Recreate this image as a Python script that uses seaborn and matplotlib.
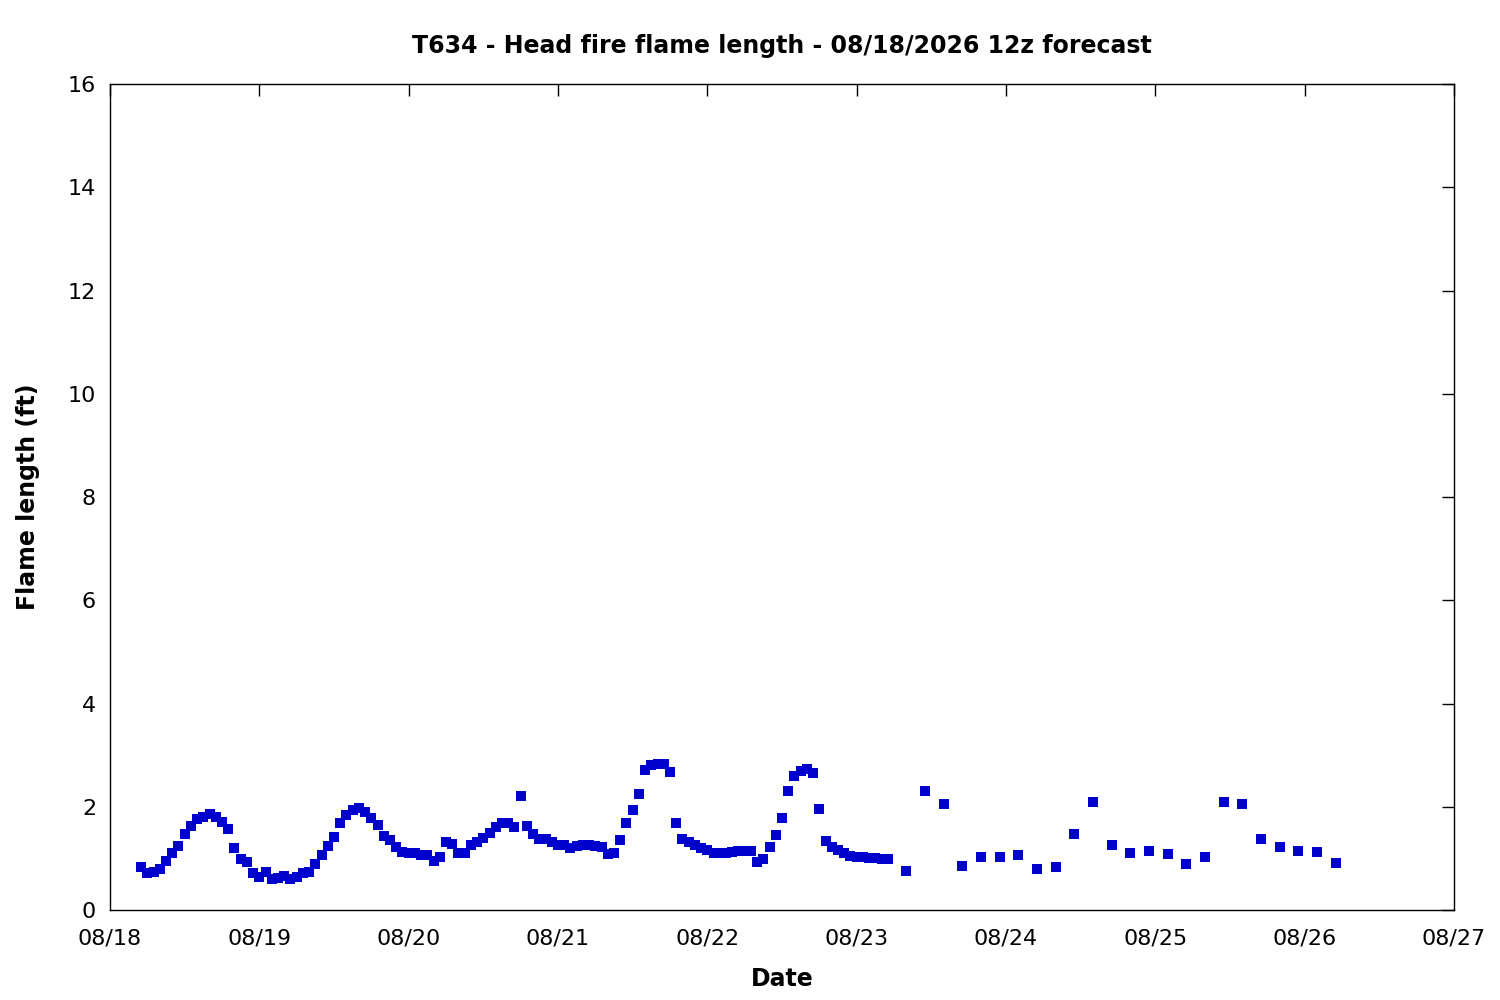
import numpy as np
import pandas as pd
import matplotlib
matplotlib.use("Agg")
import matplotlib.pyplot as plt
import matplotlib.dates as mdates
import seaborn as sns

# hourly values, 08/18 05:00 .. 08/23 05:00
hourly_flame = [
    0.83, 0.72, 0.74, 0.79, 0.95, 1.10, 1.24, 1.47, 1.63, 1.76,
    1.80, 1.86, 1.80, 1.71, 1.57, 1.20, 0.99, 0.93, 0.72, 0.64,
    0.74, 0.60, 0.62, 0.66, 0.60, 0.64, 0.72, 0.74, 0.89, 1.07,
    1.24, 1.41, 1.69, 1.84, 1.94, 1.98, 1.90, 1.78, 1.65, 1.43,
    1.36, 1.22, 1.12, 1.10, 1.10, 1.07, 1.07, 0.95, 1.03, 1.32,
    1.28, 1.10, 1.10, 1.26, 1.32, 1.40, 1.49, 1.61, 1.69, 1.69,
    1.61, 2.21, 1.63, 1.47, 1.38, 1.38, 1.32, 1.26, 1.26, 1.20,
    1.24, 1.26, 1.26, 1.24, 1.22, 1.09, 1.10, 1.36, 1.69, 1.94,
    2.25, 2.71, 2.81, 2.83, 2.83, 2.67, 1.69, 1.38, 1.32, 1.26,
    1.20, 1.16, 1.10, 1.10, 1.10, 1.12, 1.14, 1.14, 1.14, 0.93,
    0.99, 1.22, 1.45, 1.78, 2.31, 2.60, 2.69, 2.73, 2.65, 1.96,
    1.34, 1.22, 1.16, 1.10, 1.05, 1.03, 1.03, 1.01, 1.01, 0.99,
    0.99,
]
# 3-hourly values, 08/23 08:00 .. 08/26 05:00
three_hourly_flame = [
    0.76, 2.31, 2.05, 0.85, 1.03, 1.03, 1.07, 0.79, 0.83, 1.47,
    2.09, 1.26, 1.10, 1.14, 1.09, 0.89, 1.03, 2.09, 2.05, 1.38,
    1.22, 1.14, 1.12, 0.91,
]

hourly_times = pd.date_range("2026-08-18 05:00", periods=len(hourly_flame), freq="h")
three_hourly_times = pd.date_range("2026-08-23 08:00", periods=len(three_hourly_flame), freq="3h")

df = pd.DataFrame({
    "time": list(hourly_times) + list(three_hourly_times),
    "flame": hourly_flame + three_hourly_flame,
})

sns.set_style("white")
plt.rcParams["font.family"] = ["DejaVu Sans"]
plt.rcParams["text.color"] = "black"
plt.rcParams["axes.labelcolor"] = "black"
plt.rcParams["xtick.color"] = "black"
plt.rcParams["ytick.color"] = "black"

fig = plt.figure(figsize=(15, 10), dpi=100)
ax = fig.add_axes([0.0733, 0.09, 0.896, 0.826])

sns.scatterplot(data=df, x="time", y="flame", ax=ax, marker="s", s=62,
                color="#0000cc", linewidth=0, legend=False)

ax.set_xlim(pd.Timestamp("2026-08-18"), pd.Timestamp("2026-08-27"))
ax.set_ylim(0, 16)
ax.set_yticks(np.arange(0, 17, 2))
ax.xaxis.set_major_locator(mdates.DayLocator())
ax.xaxis.set_major_formatter(mdates.DateFormatter("%m/%d"))

ax.tick_params(direction="in", length=8.5, width=1, top=True, right=True,
               labelsize=16)
ax.tick_params(axis="x", pad=13)
ax.tick_params(axis="y", pad=10)
for sp in ax.spines.values():
    sp.set_color("black")
    sp.set_linewidth(1)

ax.set_xlabel("Date", fontsize=17, fontweight="bold", labelpad=14)
ax.set_ylabel("Flame length (ft)", fontsize=17, fontweight="bold", labelpad=20)
ax.set_title("T634 - Head fire flame length - 08/18/2026 12z forecast",
             fontsize=17, fontweight="bold", pad=22)

fig.savefig("out.png", dpi=100)
